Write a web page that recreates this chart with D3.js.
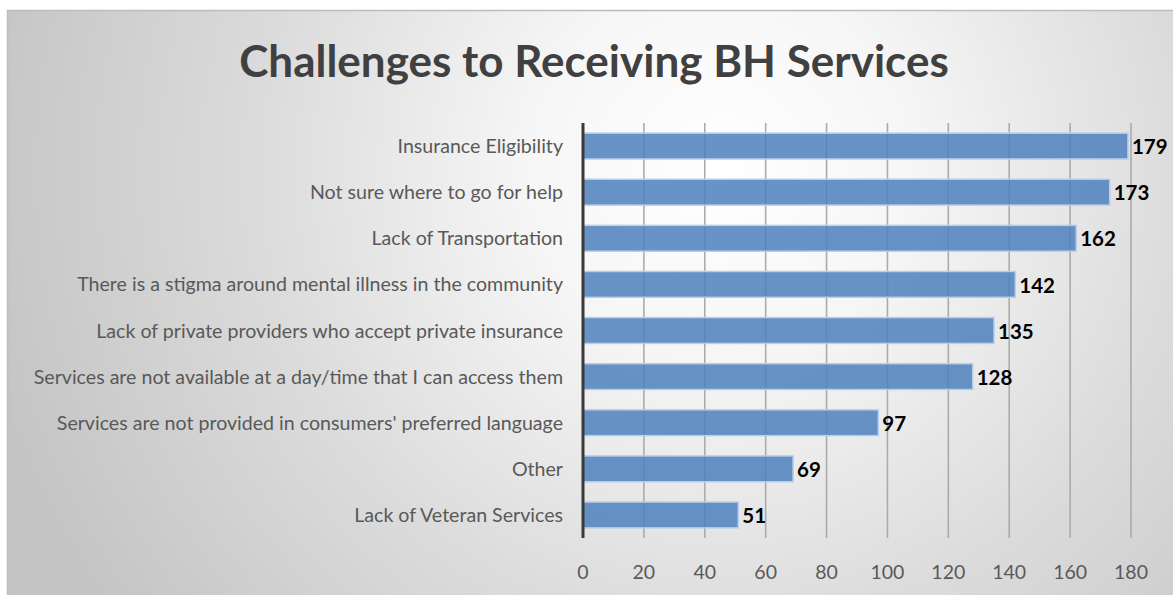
<!DOCTYPE html>
<html>
<head>
<meta charset="utf-8">
<script src="https://cdn.jsdelivr.net/npm/d3@7"></script>
<style>
  html, body { margin: 0; padding: 0; background: #ffffff; }
  svg { display: block; }
</style>
</head>
<body>
<svg id="chart" width="1173" height="595"></svg>
<script>
// Survey responses: challenges to receiving behavioral health services
const categories = [
  "Insurance Eligibility",
  "Not sure where to go for help",
  "Lack of Transportation",
  "There is a stigma around mental illness in the community",
  "Lack of private providers who accept private insurance",
  "Services are not available at a day/time that I can access them",
  "Services are not provided in consumers' preferred language",
  "Other",
  "Lack of Veteran Services"
];
const counts = [179, 173, 162, 142, 135, 128, 97, 69, 51];
const tickValues = [0, 20, 40, 60, 80, 100, 120, 140, 160, 180];
const title = "Challenges to Receiving BH Services";

const W = 1173, H = 595;
const svg = d3.select("#chart");
const font = "Lato, 'Open Sans', sans-serif";

// Background panel with soft radial shading
const defs = svg.append("defs");
const grad = defs.append("radialGradient")
  .attr("id", "bg")
  .attr("gradientUnits", "userSpaceOnUse")
  .attr("cx", 720).attr("cy", 170).attr("r", 760)
  .attr("fx", 720).attr("fy", 170);
grad.append("stop").attr("offset", 0).attr("stop-color", "#ffffff");
grad.append("stop").attr("offset", 0.25).attr("stop-color", "#f6f6f6");
grad.append("stop").attr("offset", 0.6).attr("stop-color", "#dcdcdc");
grad.append("stop").attr("offset", 1).attr("stop-color", "#c4c4c4");

svg.append("rect")
  .attr("x", 7.5).attr("y", 10.5)
  .attr("width", W - 6).attr("height", H)
  .attr("fill", "url(#bg)")
  .attr("stroke", "#bdbdbd").attr("stroke-width", 1.5);

const plot = { left: 583, right: 1131, top: 123, bottom: 538 };

const x = d3.scaleLinear().domain([0, 180]).range([plot.left, plot.right]);
const y = d3.scaleBand().domain(categories).range([plot.top, plot.bottom]).paddingInner(0.44).paddingOuter(0.22);

// Vertical gridlines
svg.append("g")
  .selectAll("line")
  .data(tickValues.filter(d => d > 0))
  .join("line")
  .attr("x1", d => x(d)).attr("x2", d => x(d))
  .attr("y1", plot.top).attr("y2", plot.bottom)
  .attr("stroke", "#ababab").attr("stroke-width", 1.6);

// Bars
svg.append("g")
  .selectAll("rect")
  .data(categories)
  .join("rect")
  .attr("x", x(0))
  .attr("y", d => y(d))
  .attr("width", (d, i) => x(counts[i]) - x(0))
  .attr("height", y.bandwidth())
  .attr("fill", "#4f81bd").attr("fill-opacity", 0.86)
  .attr("stroke", "#b7cde9").attr("stroke-width", 1.5);

// Category axis line
svg.append("line")
  .attr("x1", x(0)).attr("x2", x(0))
  .attr("y1", plot.top).attr("y2", plot.bottom)
  .attr("stroke", "#3a3a3a").attr("stroke-width", 3);

// Category labels
svg.append("g")
  .selectAll("text")
  .data(categories)
  .join("text")
  .attr("x", 563)
  .attr("y", d => y(d) + y.bandwidth() / 2)
  .attr("dy", "0.36em")
  .attr("text-anchor", "end")
  .attr("font-family", font)
  .attr("font-size", 19.6)
  .attr("fill", "#595959")
  .text(d => d);

// Value labels
svg.append("g")
  .selectAll("text")
  .data(categories)
  .join("text")
  .attr("x", (d, i) => x(counts[i]) + 4)
  .attr("y", d => y(d) + y.bandwidth() / 2)
  .attr("dy", "0.4em")
  .attr("font-family", font)
  .attr("font-weight", "bold")
  .attr("font-size", 20.5)
  .attr("fill", "#000000")
  .text((d, i) => counts[i]);

// Value axis tick labels
svg.append("g")
  .selectAll("text")
  .data(tickValues)
  .join("text")
  .attr("x", d => x(d))
  .attr("y", 572)
  .attr("dy", "0.36em")
  .attr("text-anchor", "middle")
  .attr("font-family", font)
  .attr("font-size", 19.5)
  .attr("fill", "#595959")
  .text(d => d);

// Title
svg.append("text")
  .attr("x", 594).attr("y", 77)
  .attr("text-anchor", "middle")
  .attr("font-family", font)
  .attr("font-weight", "bold")
  .attr("font-size", 44)
  .attr("fill", "#404040")
  .text(title);
</script>
</body>
</html>
